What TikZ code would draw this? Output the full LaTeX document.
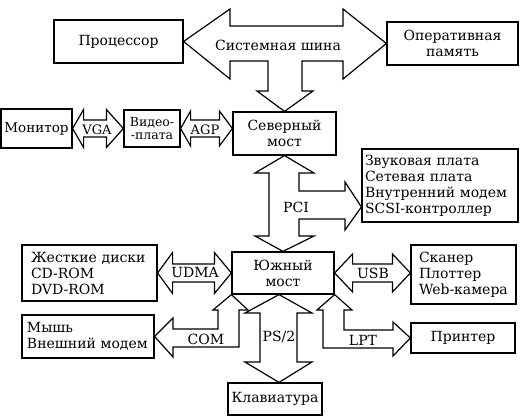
\documentclass[tikz,border=0pt]{standalone}
\usepackage{fontspec}
\setmainfont{DejaVu Serif}
\usetikzlibrary{positioning,calc}
\tikzset{
  blok/.style={draw, line width=1.2pt, inner sep=0pt, align=center, font=\fontsize{14}{16}\selectfont},
  strelka/.style={draw, line width=1.2pt, line join=miter},
  metka/.style={inner sep=0pt, font=\fontsize{14}{16}\selectfont}
}
% double block arrow: left tip, right tip, left head, right head, half body, half head
\newcommand\dvestrelki[6]
{
\draw[strelka] (#1) -- ($(#1)+(#3,-#6)$) -- ($(#1)+(#3,-#5)$)    % left head, top
  -- ($(#2)+(-#4,-#5)$) -- ($(#2)+(-#4,-#6)$) -- (#2)             % right head
  -- ($(#2)+(-#4,#6)$) -- ($(#2)+(-#4,#5)$)
  -- ($(#1)+(#3,#5)$) -- ($(#1)+(#3,#6)$) -- cycle;               % back to left tip
}

\begin{document}
\begin{tikzpicture}[x=1pt,y=-1pt]
\useasboundingbox (0,0) rectangle (530,417);
% blocks
\node[blok, minimum width=129, minimum height=43] (cpu) at (118.5,41.5) {Процессор};
\node[blok, minimum width=131, minimum height=43] (ram) at (452.5,43.5) {Оперативная\\память};
\node[blok, minimum width=103, minimum height=43] (north) at (284.5,133.5) {Северный\\мост};
\node[blok, minimum width=71, minimum height=39, font=\fontsize{13.5}{16}\selectfont] (mon) at (36.5,128.5) {Монитор};
\node[blok, minimum width=56, minimum height=37, font=\fontsize{12.5}{13}\selectfont] (video) at (152,128.5) {Видео-\\-плата};
\node[blok, minimum width=156, minimum height=73, text width=150, align=left, inner xsep=3] (pcicards) at (440,185.5)
  {Звуковая плата\\Сетевая плата\\Внутренний модем\\SCSI-контроллер};
\node[blok, minimum width=102, minimum height=42] (south) at (283,273) {Южный\\мост};
\node[blok, minimum width=135, minimum height=56, text width=117, align=left, inner xsep=9] (disks) at (89.5,273)
  {Жесткие диски\\CD-ROM\\DVD-ROM};
\node[blok, minimum width=132, minimum height=43, text width=122, align=left, inner xsep=5] (mouse) at (88,336.5)
  {Мышь\\Внешний модем};
\node[blok, minimum width=94, minimum height=32] (kbd) at (275,399) {Клавиатура};
\node[blok, minimum width=105, minimum height=59, text width=89, align=left, inner xsep=8] (scanner) at (463.5,274.5)
  {Сканер\\Плоттер\\Web-камера};
\node[blok, minimum width=104, minimum height=30] (printer) at (463,338) {Принтер};

% system bus
\draw[strelka] (cpu.east) -- (230,9) -- (230,26) -- (343,26) -- (343,9) -- (ram.west) -- (343,79) -- (343,61)
  -- (302,61) -- (302,91) -- (313,91) -- (north.north) -- (257,91) -- (268,91) -- (268,61) -- (230,61) -- (230,79) -- cycle;
\node[metka] (sysbus) at (278,45) {Системная шина};

% video
\dvestrelki{mon.east}{mon.east -| video.west}{11}{17}{8.5}{19}
\node[metka, font=\fontsize{13}{16}\selectfont] (vga) at (97,130) {VGA};
\dvestrelki{video.east}{video.east -| north.west}{10}{13}{8.5}{17.5}
\node[metka, font=\fontsize{13}{16}\selectfont] (agp) at (205,130) {AGP};

% PCI
\draw[strelka] (north.south) -- (314,173) -- (299,173) -- (299,191) -- (345,191) -- (345,182) -- (pcicards.west |- 0,207)
  -- (345,230) -- (345,219) -- (299,219) -- (299,236) -- (314,236) -- (south.north) -- (255,236) -- (269,236)
  -- (269,173) -- (255,173) -- cycle;
\node[metka] (pci) at (296,207) {PCI};

% south bridge
\dvestrelki{disks.east}{disks.east -| south.west}{15}{17}{9}{20.5}
\node[metka] (udma) at (195,272) {UDMA};
\dvestrelki{south.east}{south.east -| scanner.west}{18}{18}{9}{19}
\node[metka] (usb) at (373,273) {USB};
\draw[strelka] (south.south west) -- (248,310) -- (239,310) -- (239,347) -- (173,347) -- (173,357) -- (mouse.east)
  -- (173,318) -- (173,329) -- (218,329) -- (218,310) -- (213,310) -- cycle;
\node[metka] (com) at (206,339) {COM};
\draw[strelka] (279,0 |- south.south) -- (312,313) -- (297,313) -- (297,362) -- (312,362) -- (279,0 |- kbd.north)
  -- (245,362) -- (260,362) -- (260,313) -- (245,313) -- cycle;
\node[metka] (ps) at (279,337) {PS/2};
\draw[strelka] (south.south east) -- (352,310) -- (344,310) -- (344,330) -- (393,330) -- (393,322) -- (printer.west)
  -- (393,356) -- (393,348) -- (323,348) -- (323,310) -- (317,310) -- cycle;
\node[metka] (lpt) at (363,340) {LPT};
\end{tikzpicture}
\end{document}
